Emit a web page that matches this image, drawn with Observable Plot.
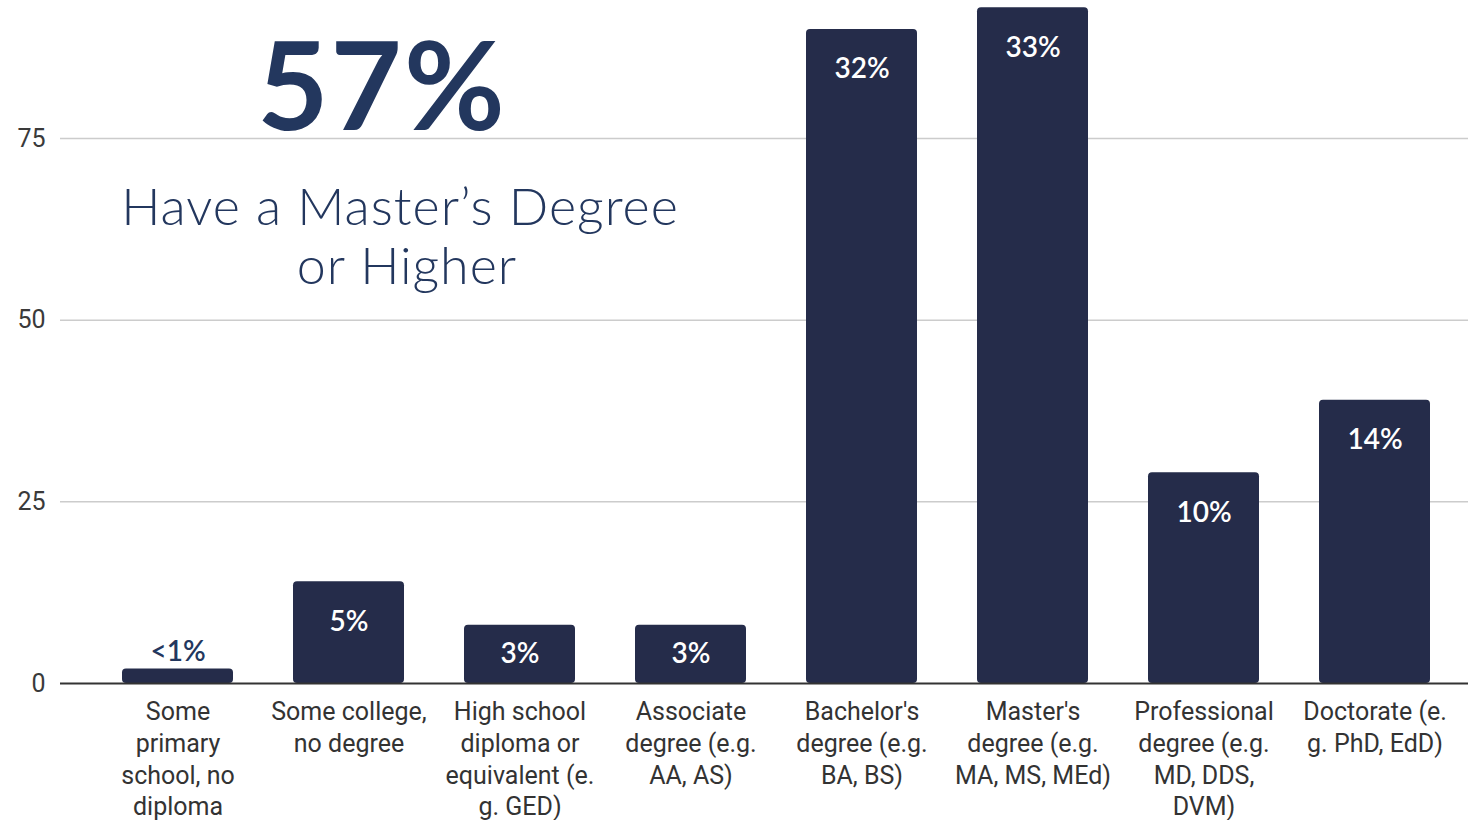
<!DOCTYPE html>
<html>
<head>
<meta charset="utf-8">
<script src="https://cdn.jsdelivr.net/npm/d3@7"></script>
<script src="https://cdn.jsdelivr.net/npm/@observablehq/plot@0.6"></script>
<style>
  html, body { margin: 0; padding: 0; background: #fff; overflow: hidden; }
  #wrap { position: relative; width: 1468px; height: 820px; }
  #overlay { position: absolute; left: 0; top: 0; pointer-events: none; }
</style>
</head>
<body>
<div id="wrap">
  <div id="chart"></div>
  <svg id="overlay" width="1468" height="320">
    <text id="big" x="382" y="130" text-anchor="middle"></text>
    <text id="sub1" x="400" y="225" text-anchor="middle"></text>
    <text id="sub2" x="407" y="284" text-anchor="middle"></text>
  </svg>
</div>
<script>
// ---- data ----
const categories = [
  "Some\nprimary\nschool, no\ndiploma",
  "Some college,\nno degree",
  "High school\ndiploma or\nequivalent (e.\ng. GED)",
  "Associate\ndegree (e.g.\nAA, AS)",
  "Bachelor's\ndegree (e.g.\nBA, BS)",
  "Master's\ndegree (e.g.\nMA, MS, MEd)",
  "Professional\ndegree (e.g.\nMD, DDS,\nDVM)",
  "Doctorate (e.\ng. PhD, EdD)"
];
const counts = [2, 14, 8, 8, 90, 93, 29, 39];
const pctLabels = ["<1%", "5%", "3%", "3%", "32%", "33%", "10%", "14%"];
const yTicks = [0, 25, 50, 75];
const headline = "57%";
const subLine1 = "Have a Master\u2019s Degree";
const subLine2 = "or Higher";

const data = categories.map((c, i) => ({ category: c, value: counts[i], label: pctLabels[i] }));

const navy = "#252c4a";
const titleNavy = "#23375e";
const pctFont = "Lato, 'Open Sans', sans-serif";

const chart = Plot.plot({
  width: 1468,
  height: 850,
  marginTop: 0,
  marginBottom: 167,
  marginLeft: 60,
  marginRight: 0,
  style: { fontFamily: "Roboto, sans-serif", background: "transparent" },
  x: { domain: categories, paddingInner: 0.35, paddingOuter: 0.28, align: 0.62, label: null },
  y: { domain: [0, 94], ticks: yTicks, label: null },
  marks: [
    Plot.ruleY(yTicks.filter(t => t > 0), { stroke: "#cccccc", strokeWidth: 1.5 }),
    Plot.axisY({ ticks: yTicks, tickSize: 0, tickPadding: 15, fontSize: 25, color: "#3a3a3a", label: null }),
    Plot.axisX({ tickSize: 0, tickPadding: 14, fontSize: 25, lineHeight: 1.27, color: "#333", label: null, style: { letterSpacing: "-0.3px" } }),
    Plot.barY(data, { x: "category", y: "value", fill: navy, rx: 4 }),
    Plot.ruleY([0], { stroke: "#333", strokeWidth: 2 }),
    Plot.text(data.filter(d => d.value > 5), {
      x: "category",
      y: d => Math.max(d.value - 5.5, d.value / 2),
      text: "label",
      fill: "white",
      fontSize: 28,
      fontWeight: 600,
      fontFamily: pctFont
    }),
    Plot.text(data.filter(d => d.value <= 5), {
      x: "category",
      y: "value",
      dy: -17,
      text: "label",
      fill: titleNavy,
      fontSize: 28,
      fontWeight: 600,
      fontFamily: pctFont
    })
  ]
});
document.getElementById("chart").appendChild(chart);

const big = document.getElementById("big");
big.textContent = headline;
big.setAttribute("style", `font-family:${pctFont};font-size:123px;font-weight:700;letter-spacing:2px;fill:${titleNavy}`);
for (const [id, t] of [["sub1", subLine1], ["sub2", subLine2]]) {
  const el = document.getElementById(id);
  el.textContent = t;
  el.setAttribute("style", `font-family:${pctFont};font-size:52px;font-weight:300;letter-spacing:1px;fill:${titleNavy}`);
}
</script>
</body>
</html>
